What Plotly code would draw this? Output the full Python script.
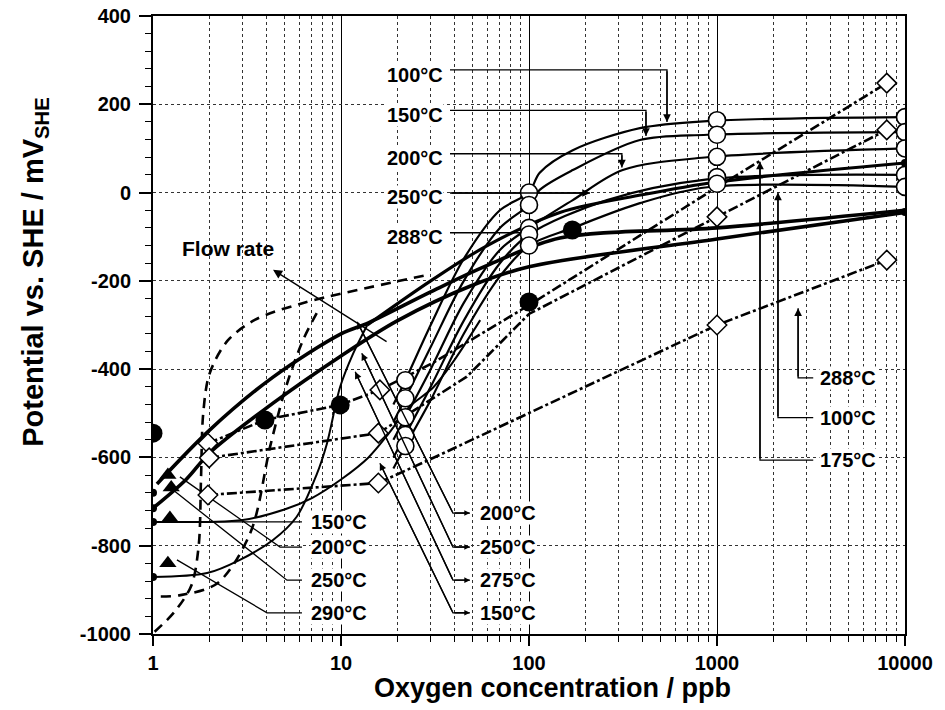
import numpy as np
import plotly.graph_objects as go

# ---------------- data ----------------
# curves with open circles (upper-left labels)
c100_x = [19, 22, 30, 45, 70, 100, 114, 171, 389, 888, 10000]
c100_y = [-480, -425, -300, -150, -40, 0, 45, 96, 146, 162, 171]
c150_x = [19, 22, 30, 45, 70, 100, 114, 171, 389, 888, 10000]
c150_y = [-520, -466, -350, -200, -80, -28, 6, 51, 119, 131, 137]
c200_x = [19, 22, 30, 45, 70, 100, 171, 315, 888, 10000]
c200_y = [-560, -509, -400, -250, -130, -80, -17, 51, 80, 100]
c250_x = [19, 22, 30, 45, 70, 100, 260, 888, 10000]
c250_y = [-600, -549, -440, -290, -160, -95, -17, 30, 40]
c288_x = [19, 22, 30, 45, 70, 100, 171, 389, 888, 10000]
c288_y = [-625, -574, -470, -320, -190, -120, -80, -24, 12, 13]

circle_x = [22, 100, 1000, 10000]
circle_100 = [-425, 0, 164, 171]
circle_150 = [-466, -28, 131, 137]
circle_200 = [-509, -80, 81, 100]
circle_250 = [-549, -95, 35, 40]
circle_288 = [-574, -120, 20, 13]

# thick solid curves
ta_x = [1, 1.5, 2, 4.35, 10, 20, 50, 100, 1000, 10000]
ta_y = [-715, -650, -590, -477, -370, -290, -210, -168, -105, -45]
tb_x = [1.05, 2, 4.35, 10, 14, 30, 60, 146, 1000, 10000]
tb_y = [-660, -538, -418, -320, -295, -225, -165, -103, -80, -40]
tc_x = [13.8, 30, 60, 146, 400, 1000, 10000]
tc_y = [-300, -200, -120, -45, -5, 24, 67]

# thin solid S-curves starting flat at low oxygen
s150_x = [1, 2, 3, 5, 7, 10, 14, 18, 23, 31, 40, 55]
s150_y = [-746, -746, -742, -718, -692, -650, -600, -545, -486, -441, -380, -289]
s290_x = [1, 1.94, 2.9, 4.35, 5.8, 7.4, 8.4, 9.9, 11.6, 13.8]
s290_y = [-871, -862, -832, -787, -735, -640, -570, -440, -365, -300]

# dashed curves
d1_x = [1.02, 1.3, 1.6, 1.75, 1.8, 1.85, 2.0, 2.5, 3.5, 6.3, 19, 30]
d1_y = [-995, -950, -890, -800, -650, -500, -410, -335, -288, -250, -203, -185]
d2_x = [1.1, 1.4, 2.2, 3.3, 4.2, 5.1, 6.3, 7.5]
d2_y = [-915, -912, -885, -770, -575, -440, -333, -270]

# dash-dot lines with open diamonds
ddt_x = [1.96, 3.94, 9.9, 16.1, 30.8, 100, 1000, 8000]
ddt_y = [-568, -515, -481, -447, -386, -255, 12, 248]
ddm_x = [1.99, 15.8, 46.7, 100, 1000, 8000]
ddm_y = [-601, -545, -417, -275, -55, 142]
ddl_x = [1.96, 15.8, 33.6, 100, 1000, 8000]
ddl_y = [-685, -658, -594, -500, -300, -153]
diamond_x = [1.96, 16.1, 8000, 1.99, 15.8, 1000, 8000, 1.96, 15.8, 1000, 8000]
diamond_y = [-568, -447, 248, -601, -545, -55, 142, -685, -658, -300, -153]

# filled symbols
dot_x = [1.0, 3.94, 9.9, 100, 170]
dot_y = [-545, -515, -481, -248, -85]
smalldot_x = [1, 1, 1, 1, 10000, 10000]
smalldot_y = [-680, -715, -746, -871, 67, -44]
tri_x = [1.2, 1.25, 1.23, 1.2]
tri_y = [-640, -668, -737, -840]

# labels
ul_labels = ["100°C", "150°C", "200°C", "250°C", "288°C"]
ul_label_x = 24.7
ul_label_y = [266, 176, 78, -10, -100]
right_labels = ["288°C", "100°C", "175°C"]
right_label_x = 5000
right_label_y = [-420, -510, -606]
bm_labels = ["200°C", "250°C", "275°C", "150°C"]
bm_label_x = 77
bm_label_y = [-726, -803, -878, -952]
bl_labels = ["150°C", "200°C", "250°C", "290°C"]
bl_label_x = 9.7
bl_label_y = [-746, -803, -878, -952]

x_ticks = [1, 10, 100, 1000, 10000]
x_ticktext = ["1", "10", "100", "1000", "10000"]
y_ticks = [-1000, -800, -600, -400, -200, 0, 200, 400]
y_ticktext = ["-1000", "-800", "-600", "-400", "-200", "0", "200", "400"]

# leader polylines (data coordinates)
ul_leaders = [
    ([38, 542, 542], [278, 278, 160]),
    ([38, 419, 419], [186, 186, 128]),
    ([38, 312, 312], [88, 88, 57]),
    ([38, 211], [-1, -1]),
    ([38, 95], [-91, -91]),
]
right_leaders = [
    ([3250, 2700, 2700], [-420, -420, -262]),
    ([3250, 2110, 2110], [-510, -510, 0]),
    ([3250, 1693, 1693], [-606, -606, 70]),
]
bm_leaders = [
    ([12.2, 39.4, 48.5], [-293, -726, -726]),
    ([12.9, 39.4, 48.5], [-364, -803, -803]),
    ([11.9, 39.4, 48.5], [-406, -878, -878]),
    ([16.1, 39.4, 48.5], [-613, -952, -952]),
]
bl_leaders = [
    ([1.09, 6.2], [-746, -746]),
    ([1.39, 4.74, 6.2], [-644, -803, -803]),
    ([1.28, 5.16, 6.2], [-674, -878, -878]),
    ([1.34, 4.04, 6.2], [-832, -952, -952]),
]
flow_text_x, flow_text_y = 2.5, -126
flow_arrow_tail = (17.8, -340)
flow_arrow_head = (4.35, -175)

# ---------------- figure ----------------
FONT = "Liberation Sans, Arial, sans-serif"
fig = go.Figure()


def line(x, y, width=2.0, dash="solid", shape="spline"):
    fig.add_trace(go.Scatter(x=x, y=y, mode="lines", line=dict(color="black", width=width, dash=dash,
                                                                 shape=shape, smoothing=0.9),
                             hoverinfo="skip", showlegend=False))


def leader(x, y):
    fig.add_trace(go.Scatter(x=x, y=y, mode="lines", line=dict(color="black", width=1.3),
                             hoverinfo="skip", showlegend=False))


for lx, ly in ul_leaders + right_leaders + bm_leaders + bl_leaders:
    leader(lx, ly)

# dashed
line(d1_x, d1_y, 2.6, "10px,7px")
line(d2_x, d2_y, 2.6, "10px,7px")
# dash-dot
line(ddt_x, ddt_y, 2.6, "10px,3px,3px,3px", "linear")
line(ddm_x, ddm_y, 2.6, "10px,3px,3px,3px", "linear")
line(ddl_x, ddl_y, 2.6, "10px,3px,3px,3px", "linear")
# thin s-curves
line(s150_x, s150_y, 2.0)
line(s290_x, s290_y, 2.0)
# circle curves
for cx, cy in [(c100_x, c100_y), (c150_x, c150_y), (c200_x, c200_y), (c250_x, c250_y), (c288_x, c288_y)]:
    line(cx, cy, 2.2)
# thick curves
line(ta_x, ta_y, 3.6)
line(tb_x, tb_y, 3.6)
line(tc_x, tc_y, 3.2)

# markers
for cy in [circle_100, circle_150, circle_200, circle_250, circle_288]:
    fig.add_trace(go.Scatter(x=circle_x, y=cy, mode="markers",
                             marker=dict(symbol="circle", size=17, color="white",
                                         line=dict(color="black", width=1.6)),
                             hoverinfo="skip", showlegend=False))
fig.add_trace(go.Scatter(x=diamond_x, y=diamond_y, mode="markers",
                         marker=dict(symbol="diamond", size=15, color="white",
                                     line=dict(color="black", width=1.5)),
                         hoverinfo="skip", showlegend=False))
fig.add_trace(go.Scatter(x=dot_x, y=dot_y, mode="markers",
                         marker=dict(symbol="circle", size=19, color="black"),
                         hoverinfo="skip", showlegend=False))
fig.add_trace(go.Scatter(x=smalldot_x, y=smalldot_y, mode="markers",
                         marker=dict(symbol="circle", size=8, color="black"),
                         hoverinfo="skip", showlegend=False))
fig.add_trace(go.Scatter(x=tri_x, y=tri_y, mode="markers",
                         marker=dict(symbol="triangle-up", size=15, color="black"),
                         hoverinfo="skip", showlegend=False))

annotations = []
lab_font = dict(family=FONT, size=20, color="black", weight="bold")


def label(text, x, y):
    annotations.append(dict(x=np.log10(x), y=y, xref="x", yref="y", text=text, showarrow=False,
                            font=lab_font, bgcolor="white", borderpad=0))


for t, yy in zip(ul_labels, ul_label_y):
    label(t, ul_label_x, yy)
for t, yy in zip(right_labels, right_label_y):
    label(t, right_label_x, yy)
for t, yy in zip(bm_labels, bm_label_y):
    label(t, bm_label_x, yy)
for t, yy in zip(bl_labels, bl_label_y):
    label(t, bl_label_x, yy)
annotations.append(dict(x=np.log10(flow_text_x), y=flow_text_y, xref="x", yref="y", text="Flow rate",
                        showarrow=False, font=dict(family=FONT, size=21, color="black", weight="bold")))

# axis titles placed as paper annotations
annotations.append(dict(x=0.531, y=-0.087, xref="paper", yref="paper", text="Oxygen concentration / ppb",
                        showarrow=False, xanchor="center", yanchor="middle",
                        font=dict(family=FONT, size=27, color="black", weight="bold")))
annotations.append(dict(x=-0.157, y=0.586, xref="paper", yref="paper",
                        text="Potential vs. SHE / mV<sub>SHE</sub>", textangle=-90,
                        showarrow=False, xanchor="center", yanchor="middle",
                        font=dict(family=FONT, size=29, color="black", weight="bold")))


def arrow(head, tail, size=1.0):
    annotations.append(dict(x=np.log10(head[0]), y=head[1], ax=np.log10(tail[0]), ay=tail[1],
                            xref="x", yref="y", axref="x", ayref="y", text="", showarrow=True,
                            arrowhead=2, arrowsize=size, arrowwidth=1.4, arrowcolor="black",
                            standoff=0, startstandoff=0))


arrow(flow_arrow_head, flow_arrow_tail, 1.3)
for lx, ly in ul_leaders[:3] + right_leaders + [ul_leaders[3]]:
    arrow((lx[-1], ly[-1]), (lx[-2], ly[-2]), 1.1)
for lx, ly in bm_leaders:
    arrow((lx[-1], ly[-1]), (lx[-2], ly[-2]), 0.8)
    arrow((lx[0], ly[0]), (lx[1], ly[1]), 1.0)

tick_font = dict(family=FONT, size=20, color="black", weight="bold")
fig.update_layout(
    width=945, height=710,
    margin=dict(l=153, r=40, t=16, b=76),
    paper_bgcolor="white", plot_bgcolor="white",
    annotations=annotations,
    xaxis=dict(type="log", range=[0, 4], tickvals=x_ticks, ticktext=x_ticktext,
               showline=True, linecolor="black", linewidth=2, mirror=True,
               ticks="outside", ticklen=10, tickwidth=1.5, tickcolor="black",
               showgrid=True, gridcolor="black", gridwidth=1,
               minor=dict(dtick="D1", ticks="outside", ticklen=6, tickwidth=1.2, tickcolor="black",
                          showgrid=True, gridcolor="#333", griddash="dot", gridwidth=1.2),
               tickfont=tick_font, zeroline=False, automargin=False),
    yaxis=dict(range=[-1000, 400], tickvals=y_ticks, ticktext=y_ticktext,
               showline=True, linecolor="black", linewidth=2, mirror=True,
               ticks="outside", ticklen=12, tickwidth=1.5, tickcolor="black",
               showgrid=True, gridcolor="#333", griddash="dot", gridwidth=1.2,
               minor=dict(tick0=-1000, dtick=40, ticks="outside", ticklen=6, tickwidth=1.2,
                          tickcolor="black", showgrid=False),
               tickfont=tick_font, zeroline=False, automargin=False, ticklabelstandoff=4),
)

fig.write_html("out.html")
